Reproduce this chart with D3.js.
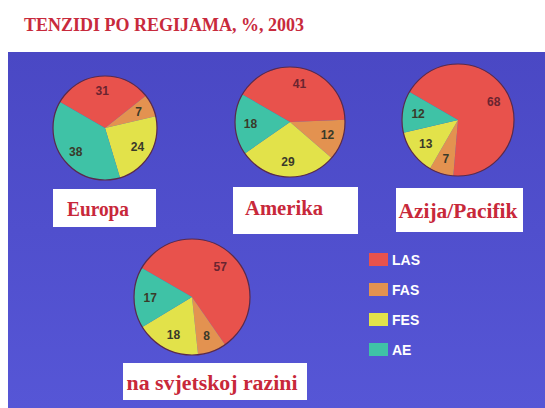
<!DOCTYPE html>
<html><head><meta charset="utf-8">
<script src="https://cdn.jsdelivr.net/npm/d3@7"></script>
<style>html,body{margin:0;padding:0;background:#fff;}svg{display:block;}</style>
</head><body>
<script>
// ---- data ----
const title = "TENZIDI PO REGIJAMA, %, 2003";
const categories = ["LAS", "FAS", "FES", "AE"];
const regions = ["Europa", "Amerika", "Azija/Pacifik", "na svjetskoj razini"];
const europa = [31, 7, 24, 38];
const amerika = [41, 12, 29, 18];
const azija = [68, 7, 13, 12];
const svijet = [57, 8, 18, 17];
const seriesValues = [europa, amerika, azija, svijet];

// ---- layout / style ----
const W = 545, H = 408;
const colors = ["#e8524c", "#e39250", "#e2e24a", "#3fc2a6"];
const layout = [
  {cx: 105, cy: 128, r: 52, box: [53, 189, 103, 38], tx: 98, ty: 216, tl: 62},
  {cx: 290, cy: 122, r: 55, box: [233, 187, 125, 47], tx: 284, ty: 215, tl: 78},
  {cx: 458, cy: 120, r: 56, box: [396, 188, 127, 44], tx: 458, ty: 218, tl: 119},
  {cx: 192, cy: 297, r: 58, box: [123, 363, 184, 37], tx: 212, ty: 390, tl: 171}
];
const startAngle = -60 * Math.PI / 180;

const svg = d3.select("body").append("svg").attr("width", W).attr("height", H);
const defs = svg.append("defs");
const grad = defs.append("linearGradient").attr("id", "bg").attr("x1", 0).attr("y1", 0).attr("x2", 0).attr("y2", 1);
grad.append("stop").attr("offset", "0%").attr("stop-color", "#4a48c4");
grad.append("stop").attr("offset", "100%").attr("stop-color", "#5656d6");

svg.append("rect").attr("width", W).attr("height", H).attr("fill", "#fff");
svg.append("text").attr("x", 24).attr("y", 31)
  .attr("font-family", "Liberation Serif, serif").attr("font-weight", "bold")
  .attr("font-size", 18).attr("fill", "#c82a3c").text(title);
svg.append("rect").attr("x", 8).attr("y", 52).attr("width", W - 8).attr("height", H - 52).attr("fill", "url(#bg)");

const color = d3.scaleOrdinal().domain(categories).range(colors);
const pie = d3.pie().sort(null).value(d => d.v)
  .startAngle(startAngle).endAngle(startAngle + 2 * Math.PI);

seriesValues.forEach((vals, i) => {
  const L = layout[i];
  const g = svg.append("g").attr("transform", `translate(${L.cx},${L.cy})`);
  const arc = d3.arc().innerRadius(0).outerRadius(L.r);
  const labelArc = d3.arc().innerRadius(L.r * 0.72).outerRadius(L.r * 0.72);
  const arcs = pie(vals.map((v, k) => ({cat: categories[k], v})));
  g.selectAll("path").data(arcs).join("path")
    .attr("d", arc).attr("fill", d => color(d.data.cat))
    .attr("stroke", "none");
  g.append("circle").attr("r", L.r).attr("fill", "none").attr("stroke", "#5a2a4a").attr("stroke-width", 1.2);
  g.selectAll("text").data(arcs).join("text")
    .attr("transform", d => `translate(${labelArc.centroid(d)})`)
    .attr("text-anchor", "middle").attr("dy", "0.36em")
    .attr("font-family", "Liberation Sans, Arial, sans-serif").attr("font-weight", "bold")
    .attr("font-size", 12).attr("fill", d => d.data.cat === "LAS" ? "#6a2430" : "#3a3a2a")
    .text(d => d.data.v);
  svg.append("rect").attr("x", L.box[0]).attr("y", L.box[1]).attr("width", L.box[2]).attr("height", L.box[3]).attr("fill", "#fff");
  svg.append("text").attr("x", L.tx).attr("y", L.ty).attr("text-anchor", "middle")
    .attr("font-family", "Liberation Serif, serif").attr("font-weight", "bold")
    .attr("font-size", 20).attr("fill", "#c8283a")
    .attr("textLength", L.tl).attr("lengthAdjust", "spacingAndGlyphs")
    .text(regions[i]);
});

// legend
const legend = svg.append("g");
const ly = d3.scalePoint().domain(categories).range([253, 343]);
categories.forEach(c => {
  legend.append("rect").attr("x", 369).attr("y", ly(c)).attr("width", 19).attr("height", 13).attr("fill", color(c));
  legend.append("text").attr("x", 392).attr("y", ly(c) + 12)
    .attr("font-family", "Liberation Sans, Arial, sans-serif").attr("font-weight", "bold")
    .attr("font-size", 14).attr("fill", "#fff").text(c);
});
</script>
</body></html>
